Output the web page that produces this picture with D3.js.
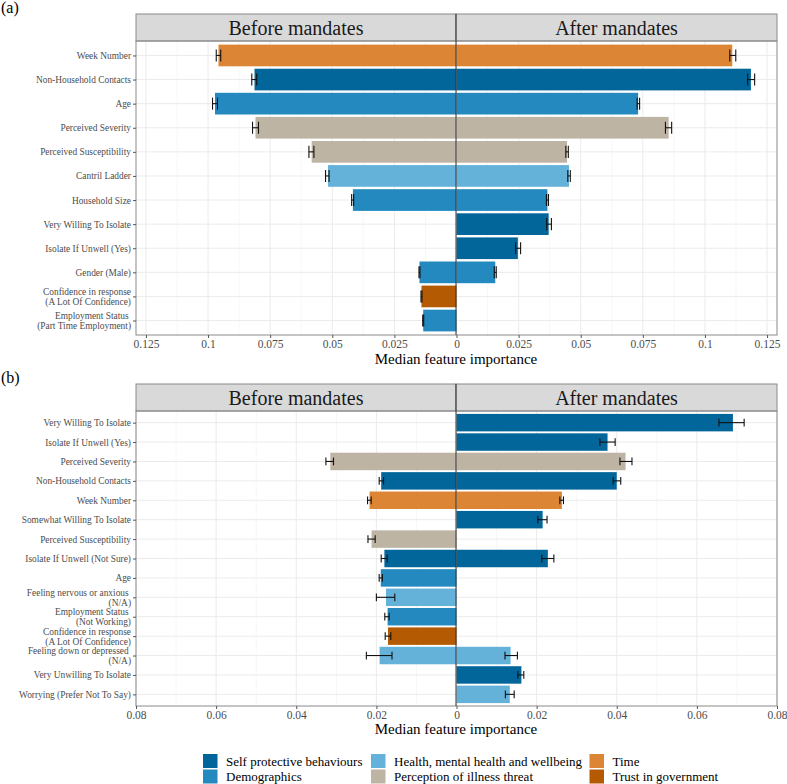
<!DOCTYPE html>
<html>
<head>
<meta charset="utf-8">
<script src="https://cdn.jsdelivr.net/npm/d3@7"></script>
<style>
  body { margin: 0; background: #fff; }
  svg, svg text { font-family: "Liberation Serif", "Times New Roman", serif !important; }
  .tick text { white-space: pre; }
</style>
</head>
<body>
<div id="chart"></div>
<script>
// categorias y colores
const groups = ["Self protective behaviours", "Demographics", "Health, mental health and wellbeing",
  "Perception of illness threat", "Time", "Trust in government"];
const groupColors = ["#03669b", "#2389bf", "#64b1da", "#bdb4a3", "#dc8535", "#b35a03"];

// panel (a)
const featuresA = ["Week Number", "Non-Household Contacts", "Age", "Perceived Severity",
  "Perceived Susceptibility", "Cantril Ladder", "Household Size", "Very Willing To Isolate",
  "Isolate If Unwell (Yes)", "Gender (Male)", "Confidence in response\n(A Lot Of Confidence)",
  "Employment Status \n(Part Time Employment)"];
const groupsA = ["Time", "Self protective behaviours", "Demographics", "Perception of illness threat",
  "Perception of illness threat", "Health, mental health and wellbeing", "Demographics",
  "Self protective behaviours", "Self protective behaviours", "Demographics", "Trust in government", "Demographics"];
const beforeA   = [0.0958, 0.0813, 0.0972, 0.0809, 0.0583, 0.0517, 0.0417, 0, 0, 0.0149, 0.0141, 0.0134];
const beforeLoA = [0.0949, 0.0804, 0.0962, 0.0797, 0.0574, 0.0513, 0.0414, null, null, 0.0147, 0.0139, 0.0132];
const beforeHiA = [0.0967, 0.0824, 0.0982, 0.0821, 0.0594, 0.0527, 0.0422, null, null, 0.0151, 0.0143, 0.0136];
const afterA    = [0.1110, 0.1185, 0.0731, 0.0854, 0.0445, 0.0453, 0.0366, 0.0371, 0.0247, 0.0156, 0, 0];
const afterLoA  = [0.1100, 0.1172, 0.0727, 0.0841, 0.0440, 0.0448, 0.0362, 0.0363, 0.0238, 0.0152, null, null];
const afterHiA  = [0.1124, 0.1200, 0.0737, 0.0866, 0.0450, 0.0458, 0.0370, 0.0382, 0.0258, 0.0160, null, null];
const ticksA = [0.125, 0.1, 0.075, 0.05, 0.025, 0];

// panel (b)
const featuresB = ["Very Willing To Isolate", "Isolate If Unwell (Yes)", "Perceived Severity",
  "Non-Household Contacts", "Week Number", "Somewhat Willing To Isolate", "Perceived Susceptibility",
  "Isolate If Unwell (Not Sure)", "Age", "Feeling nervous or anxious \n(N/A)", "Employment Status \n(Not Working)",
  "Confidence in response\n(A Lot Of Confidence)", "Feeling down or depressed \n(N/A)",
  "Very Unwilling To Isolate", "Worrying (Prefer Not To Say)"];
const groupsB = ["Self protective behaviours", "Self protective behaviours", "Perception of illness threat",
  "Self protective behaviours", "Time", "Self protective behaviours", "Perception of illness threat",
  "Self protective behaviours", "Demographics", "Health, mental health and wellbeing", "Demographics",
  "Trust in government", "Health, mental health and wellbeing", "Self protective behaviours",
  "Health, mental health and wellbeing"];
const beforeB   = [0, 0, 0.0315, 0.0188, 0.0217, 0, 0.0212, 0.0180, 0.0189, 0.0176, 0.0172, 0.0171, 0.0192, 0, 0];
const beforeLoB = [null, null, 0.0307, 0.0182, 0.0213, null, 0.0203, 0.0173, 0.0185, 0.0154, 0.0168, 0.0164, 0.0161, null, null];
const beforeHiB = [null, null, 0.0326, 0.0193, 0.0222, null, 0.0221, 0.0188, 0.0193, 0.0200, 0.0179, 0.0178, 0.0225, null, null];
const afterB    = [0.0690, 0.0377, 0.0422, 0.0400, 0.0263, 0.0215, 0, 0.0228, 0, 0, 0, 0, 0.0135, 0.0162, 0.0133];
const afterLoB  = [0.0655, 0.0358, 0.0408, 0.0391, 0.0258, 0.0203, null, 0.0213, null, null, null, null, 0.0121, 0.0153, 0.0122];
const afterHiB  = [0.0718, 0.0396, 0.0438, 0.0410, 0.0267, 0.0226, null, 0.0243, null, null, null, null, 0.0152, 0.0168, 0.0144];
const ticksB = [0.08, 0.06, 0.04, 0.02, 0];

const width = 787, height = 784;
const left = 136, right = 777, mid = 456;

const color = d3.scaleOrdinal().domain(groups).range(groupColors);

const svg = d3.select("#chart").append("svg")
  .attr("width", width)
  .attr("height", height);

function drawPanel(p) {
  const x = d3.scaleLinear().domain([-p.xmax, p.xmax]).range([left, right]);
  const y = d3.scalePoint().domain(p.features).range([p.plotTop, p.plotBottom]).padding(0.6);
  const step = y.step();
  const g = svg.append("g");

  // letra del panel
  svg.append("text")
    .attr("x", 1).attr("y", p.labelY)
    .attr("font-size", 16).attr("fill", "#000")
    .text(p.label);

  // rejilla
  const minor = [];
  for (let i = 0; i < p.ticks.length - 1; i++) {
    const m = (p.ticks[i] + p.ticks[i + 1]) / 2;
    minor.push(m, -m);
  }
  g.selectAll(".minor").data(minor).enter().append("line")
    .attr("x1", d => x(d)).attr("x2", d => x(d))
    .attr("y1", p.plotTop).attr("y2", p.plotBottom)
    .attr("stroke", "#f2f2f2").attr("stroke-width", 0.6);
  const major = p.ticks.flatMap(t => t === 0 ? [0] : [t, -t]);
  g.selectAll(".major").data(major).enter().append("line")
    .attr("x1", d => x(d)).attr("x2", d => x(d))
    .attr("y1", p.plotTop).attr("y2", p.plotBottom)
    .attr("stroke", "#ebebeb").attr("stroke-width", 1);
  g.selectAll(".hgrid").data(p.features).enter().append("line")
    .attr("x1", left).attr("x2", right)
    .attr("y1", d => y(d)).attr("y2", d => y(d))
    .attr("stroke", "#ebebeb").attr("stroke-width", 1);

  // barras
  const rows = p.features.map((f, i) => ({
    f, grp: p.groups[i],
    before: p.before[i], bLo: p.beforeLo[i], bHi: p.beforeHi[i],
    after: p.after[i], aLo: p.afterLo[i], aHi: p.afterHi[i]
  }));
  const bh = step * 0.9;
  g.selectAll(".bar-before").data(rows.filter(d => d.before > 0)).enter().append("rect")
    .attr("x", d => x(-d.before))
    .attr("y", d => y(d.f) - bh / 2)
    .attr("width", d => x(0) - x(-d.before))
    .attr("height", bh)
    .attr("fill", d => color(d.grp));
  g.selectAll(".bar-after").data(rows.filter(d => d.after > 0)).enter().append("rect")
    .attr("x", x(0))
    .attr("y", d => y(d.f) - bh / 2)
    .attr("width", d => x(d.after) - x(0))
    .attr("height", bh)
    .attr("fill", d => color(d.grp));

  // barras de error
  const errs = [];
  rows.forEach(d => {
    if (d.bLo != null) errs.push({ f: d.f, lo: -d.bHi, hi: -d.bLo });
    if (d.aLo != null) errs.push({ f: d.f, lo: d.aLo, hi: d.aHi });
  });
  const cap = step * p.capFrac / 2;
  const eg = g.selectAll(".err").data(errs).enter().append("g")
    .attr("stroke", "#111").attr("stroke-width", 1.1);
  eg.append("line")
    .attr("x1", d => x(d.lo)).attr("x2", d => x(d.hi))
    .attr("y1", d => y(d.f)).attr("y2", d => y(d.f));
  eg.append("line")
    .attr("x1", d => x(d.lo)).attr("x2", d => x(d.lo))
    .attr("y1", d => y(d.f) - cap).attr("y2", d => y(d.f) + cap);
  eg.append("line")
    .attr("x1", d => x(d.hi)).attr("x2", d => x(d.hi))
    .attr("y1", d => y(d.f) - cap).attr("y2", d => y(d.f) + cap);

  // tiras de facetas
  const strips = [
    { name: "Before mandates", x0: left, x1: mid },
    { name: "After mandates", x0: mid, x1: right }
  ];
  strips.forEach(s => {
    svg.append("rect")
      .attr("x", s.x0).attr("y", p.stripTop)
      .attr("width", s.x1 - s.x0).attr("height", p.plotTop - p.stripTop)
      .attr("fill", "#d9d9d9").attr("stroke", "#8a8a8a").attr("stroke-width", 1);
    svg.append("text")
      .attr("x", (s.x0 + s.x1) / 2).attr("y", (p.stripTop + p.plotTop) / 2)
      .attr("dy", "0.35em").attr("text-anchor", "middle")
      .attr("font-size", 20).attr("fill", "#1a1a1a")
      .text(s.name);
  });

  // bordes
  svg.append("rect")
    .attr("x", left).attr("y", p.plotTop)
    .attr("width", right - left).attr("height", p.plotBottom - p.plotTop)
    .attr("fill", "none").attr("stroke", "#8a8a8a").attr("stroke-width", 1);
  svg.append("line")
    .attr("x1", mid).attr("x2", mid)
    .attr("y1", p.stripTop).attr("y2", p.plotBottom)
    .attr("stroke", "#333").attr("stroke-width", 1);

  // ejes
  const xAxis = svg.append("g")
    .attr("transform", `translate(0,${p.plotBottom})`)
    .call(d3.axisBottom(x).tickValues(major).tickSize(3).tickPadding(2)
      .tickFormat(d => +Math.abs(d).toFixed(3)));
  xAxis.attr("font-family", null);
  xAxis.select(".domain").remove();
  xAxis.selectAll(".tick line").attr("stroke", "#555");
  xAxis.selectAll(".tick text")
    .attr("font-size", 11.5).attr("fill", "#4d4d4d");

  const yAxis = svg.append("g")
    .attr("transform", `translate(${left},0)`)
    .call(d3.axisLeft(y).tickSize(3).tickPadding(2));
  yAxis.attr("font-family", null);
  yAxis.select(".domain").remove();
  yAxis.selectAll(".tick line").attr("stroke", "#555");
  yAxis.selectAll(".tick text")
    .attr("font-size", 9.4).attr("fill", "#4d4d4d")
    .each(function(d) {
      const lines = d.split("\n");
      const t = d3.select(this).text(null).attr("dy", null);
      lines.forEach((ln, i) => {
        t.append("tspan")
          .attr("x", -5)
          .attr("y", (i - (lines.length - 1) / 2) * 9.9)
          .attr("dy", "0.32em")
          .text(ln);
      });
    });

  svg.append("text")
    .attr("x", mid).attr("y", p.titleY)
    .attr("dy", "0.35em").attr("text-anchor", "middle")
    .attr("font-size", 15).attr("fill", "#000")
    .text("Median feature importance");
}

drawPanel({
  label: "(a)", labelY: 13,
  features: featuresA, groups: groupsA,
  before: beforeA, beforeLo: beforeLoA, beforeHi: beforeHiA,
  after: afterA, afterLo: afterLoA, afterHi: afterHiA,
  ticks: ticksA, xmax: 0.129,
  stripTop: 14, plotTop: 41, plotBottom: 335, titleY: 359, capFrac: 0.5
});

drawPanel({
  label: "(b)", labelY: 383,
  features: featuresB, groups: groupsB,
  before: beforeB, beforeLo: beforeLoB, beforeHi: beforeHiB,
  after: afterB, afterLo: afterLoB, afterHi: afterHiB,
  ticks: ticksB, xmax: 0.08,
  stripTop: 384, plotTop: 411, plotBottom: 706, titleY: 729, capFrac: 0.4
});

// leyenda
const legendCols = [203, 371, 589.5];
const legend = svg.append("g");
groups.forEach((grp, i) => {
  const col = Math.floor(i / 2), row = i % 2;
  const gx = legendCols[col], gy = 754 + row * 15.5;
  legend.append("rect")
    .attr("x", gx).attr("y", gy)
    .attr("width", 14.5).attr("height", 14)
    .attr("fill", color(grp));
  legend.append("text")
    .attr("x", gx + 23).attr("y", gy + 7)
    .attr("dy", "0.35em")
    .attr("font-size", 13).attr("fill", "#000")
    .text(grp);
});
</script>
</body>
</html>
